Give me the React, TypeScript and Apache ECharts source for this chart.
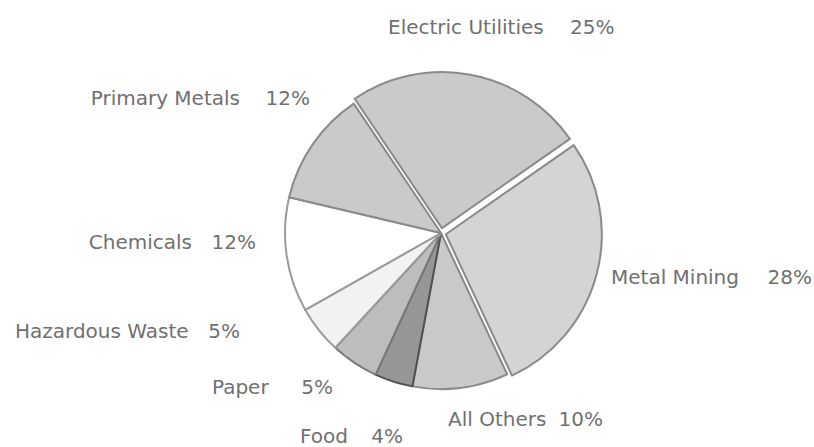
import React, { useEffect, useRef } from "react";
import * as echarts from "echarts";

// Data
const categories = [
  "Electric Utilities",
  "Metal Mining",
  "All Others",
  "Food",
  "Paper",
  "Hazardous Waste",
  "Chemicals",
  "Primary Metals",
];
const shares = [25, 28, 10, 4, 5, 5, 12, 12];
const exploded = [true, true, false, false, false, false, false, false];

// Styles / layout
const fills = ["#cacaca", "#d4d4d4", "#c9c9c9", "#969696", "#bdbdbd", "#f2f2f2", "#ffffff", "#cacaca"];
const borders = ["#8a8a8a", "#8a8a8a", "#8a8a8a", "#505050", "#7a7a7a", "#9a9a9a", "#9a9a9a", "#8a8a8a"];
// [nameX, nameAlign, valueX, valueAlign, y]
const labelAnchors: [number, string, number, string, number][] = [
  [388, "left", 570, "left", 27],
  [611, "left", 812, "right", 277],
  [448, "left", 603, "right", 419],
  [300, "left", 403, "right", 436],
  [212, "left", 333, "right", 387],
  [15, "left", 240, "right", 331],
  [192, "right", 256, "right", 242],
  [240, "right", 310, "right", 98],
];

export default function App() {
  const ref = useRef<HTMLDivElement>(null);
  useEffect(() => {
    if (!ref.current) return;
    const chart = echarts.init(ref.current, undefined, { renderer: "svg" });
    const data = categories.map((name, i) => ({
      name,
      value: shares[i],
      selected: exploded[i],
      itemStyle: { color: fills[i], borderColor: borders[i], borderWidth: 2 },
    }));
    const textStyle = {
      fontFamily: "DejaVu Sans",
      fontSize: 20,
      fill: "#707070",
      verticalAlign: "middle",
    };
    const labels: any[] = [];
    categories.forEach((name, i) => {
      const a = labelAnchors[i];
      labels.push({
        type: "text",
        x: a[0],
        y: a[4],
        style: { ...textStyle, text: name, align: a[1] },
        silent: true,
      });
      labels.push({
        type: "text",
        x: a[2],
        y: a[4],
        style: { ...textStyle, text: shares[i] + "%", align: a[3] },
        silent: true,
      });
    });
    chart.setOption({
      animation: false,
      backgroundColor: "#ffffff",
      graphic: labels,
      series: [
        {
          type: "pie",
          center: [441, 233],
          radius: 156,
          startAngle: 124,
          clockwise: true,
          selectedMode: "multiple",
          selectedOffset: 5,
          avoidLabelOverlap: false,
          emphasis: { disabled: true },
          label: { show: false },
          labelLine: { show: false },
          data,
        },
      ],
    });
    return () => chart.dispose();
  }, []);
  return (
    <div
      ref={ref}
      style={{ position: "fixed", left: 0, top: 0, width: 814, height: 447 }}
    />
  );
}
